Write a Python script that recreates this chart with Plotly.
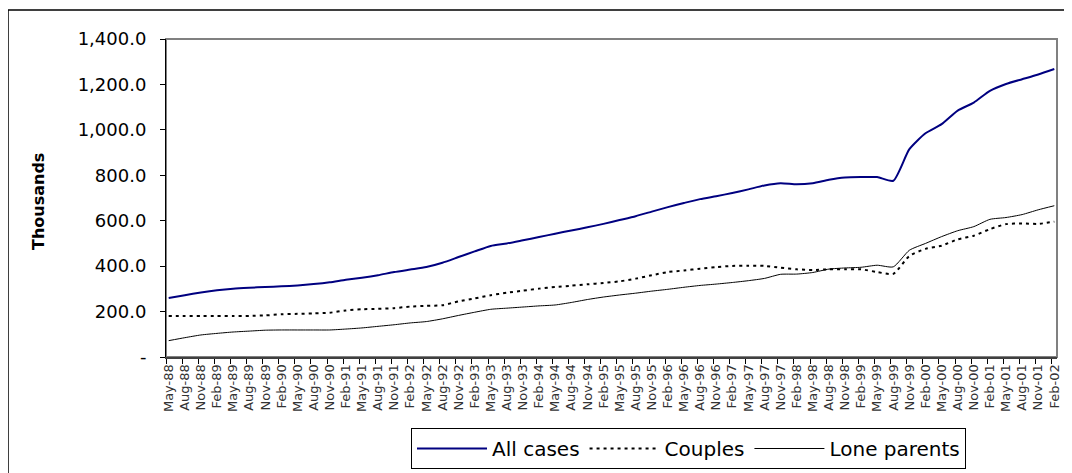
import plotly.graph_objects as go

tick_labels = (["May-88", "Aug-88", "Nov-88"] +
               [f"{m}-{y % 100:02d}" for y in range(89, 102) for m in ["Feb", "May", "Aug", "Nov"]] +
               ["Feb-02"])

all_cases = [260, 272, 284, 294, 301, 305, 308, 311, 315, 321,
             329, 340, 349, 360, 374, 385, 396, 415, 440, 465,
             489, 500, 514, 528, 543, 557, 571, 586, 603, 620,
             640, 660, 678, 695, 708, 722, 738, 755, 765, 760,
             765, 780, 790, 792, 792, 776, 915, 985, 1025, 1085,
             1120, 1172, 1202, 1223, 1244, 1268]

couples = [180, 180, 180, 180, 180, 181, 183, 188, 190, 192,
           195, 205, 210, 212, 215, 222, 225, 228, 245, 258,
           272, 283, 292, 301, 308, 314, 320, 326, 333, 345,
           360, 374, 381, 389, 396, 401, 402, 401, 393, 386,
           383, 386, 386, 386, 374, 366, 445, 476, 490, 518,
           534, 563, 585, 588, 586, 596]

lone_parents = [72, 85, 97, 104, 110, 114, 118, 119, 119, 119,
                119, 123, 128, 135, 142, 150, 156, 168, 183, 197,
                210, 215, 220, 225, 229, 240, 253, 264, 273, 281,
                290, 298, 307, 315, 321, 328, 336, 346, 364, 365,
                372, 387, 392, 395, 404, 397, 470, 500, 530, 556,
                574, 606, 614, 627, 648, 666]

y_ticks = [0, 200, 400, 600, 800, 1000, 1200, 1400]
y_tick_text = ["-", "200.0", "400.0", "600.0", "800.0", "1,000.0", "1,200.0", "1,400.0"]

x_pos = [3 * i for i in range(len(tick_labels))]

fig = go.Figure()
fig.add_trace(go.Scatter(x=x_pos, y=all_cases, name="All cases", mode="lines",
                         line=dict(color="#000080", width=2, shape="spline", smoothing=0.6)))
fig.add_trace(go.Scatter(x=x_pos, y=couples, name="Couples", mode="lines",
                         line=dict(color="black", width=2, dash="3px,4px", shape="spline", smoothing=0.6)))
fig.add_trace(go.Scatter(x=x_pos, y=lone_parents, name="Lone parents", mode="lines",
                         line=dict(color="black", width=1, shape="spline", smoothing=0.6)))

O = 8  # page body margin offset
L, R, T, B = 166, 1057, 39, 357
W, H = 1072 - O, 473 - O
pw, ph = R - L, B - T

def px(x):
    return (x - L) / pw

def py(y):
    return (B - y) / ph

fig.update_layout(
    width=W, height=H,
    margin=dict(l=L - O, r=1072 - R, t=T - O, b=473 - B, autoexpand=False),
    paper_bgcolor="white", plot_bgcolor="white",
    font=dict(family="DejaVu Sans", color="black"),
    showlegend=True,
    legend=dict(orientation="h", x=px(411), y=py(428), xanchor="left", yanchor="top",
                bordercolor="black", borderwidth=1, bgcolor="white",
                font=dict(family="DejaVu Sans", size=20), itemwidth=70,
                traceorder="normal"),
    xaxis=dict(range=[-0.5, 165.5], tickvals=x_pos, ticktext=tick_labels, tickangle=-90,
               ticks="", showgrid=False, zeroline=False,
               tickfont=dict(family="DejaVu Sans", size=13, color="#333"),
               showline=True, linecolor="#404040", linewidth=2,
               minor=dict(ticks="outside", tick0=-0.5, dtick=3, ticklen=5, tickcolor="black",
                          tickwidth=1, showgrid=False)),
    yaxis=dict(range=[0, 1400], tickvals=y_ticks, ticktext=y_tick_text, ticks="outside",
               ticklen=5, tickcolor="black", showgrid=False, zeroline=False,
               showline=True, linecolor="black", linewidth=1, ticklabelstandoff=10,
               tickfont=dict(family="DejaVu Sans", size=18)),
    annotations=[
        dict(text="<b>Thousands</b>", xref="paper", yref="paper", x=px(38), y=py(202),
             xanchor="center", yanchor="middle", textangle=-90, showarrow=False,
             font=dict(family="DejaVu Sans", size=16, color="black")),
    ],
    shapes=[
        dict(type="rect", xref="paper", yref="paper", x0=0, x1=1, y0=0, y1=1,
             line=dict(color="#808080", width=2), layer="below"),
        dict(type="rect", xref="paper", yref="paper", x0=px(8), x1=px(1085), y0=py(485), y1=py(10),
             line=dict(color="black", width=1.5), layer="below"),
    ],
)

fig.write_html("out.html")
